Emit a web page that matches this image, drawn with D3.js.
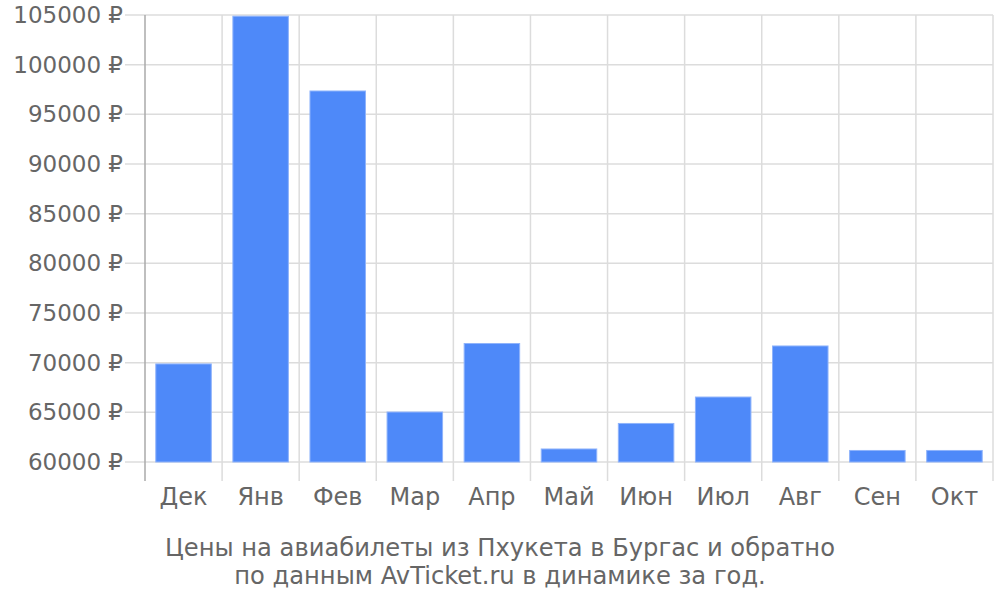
<!DOCTYPE html>
<html><head><meta charset="utf-8">
<script src="https://cdn.jsdelivr.net/npm/d3@7"></script>
<style>body{margin:0;background:#fff}svg{display:block}</style>
</head><body>
<svg id="c" width="1000" height="600"></svg>
<script>
const categories = ["Дек","Янв","Фев","Мар","Апр","Май","Июн","Июл","Авг","Сен","Окт"];
const prices = [69870, 104880, 97350, 65030, 71930, 61310, 63880, 66540, 71680, 61160, 61160];
const yTicks = [60000,65000,70000,75000,80000,85000,90000,95000,100000,105000];
const titleLines = ["Цены на авиабилеты из Пхукета в Бургас и обратно","по данным AvTicket.ru в динамике за год."];

(function () {
const svg = d3.select("#c");
const font = "'DejaVu Sans', sans-serif";
const pLeft = 145, pRight = 993, pTop = 15, base = 462, axisBottom = 481;
const x = d3.scaleBand().domain(categories).range([pLeft, pRight]).paddingInner(0.28).paddingOuter(0.14);
const xb = d3.scaleBand().domain(categories).range([pLeft, pRight]);
const y = d3.scaleLinear().domain([60000, 105000]).range([base, pTop]);

// horizontal grid
svg.append("g").selectAll("line").data(yTicks).join("line")
  .attr("x1", 125).attr("x2", pRight).attr("y1", d => y(d)).attr("y2", d => y(d))
  .attr("stroke", "#dcdcdc").attr("stroke-width", 1.5);
// vertical grid
const vx = categories.map(c => xb(c)).concat([pRight]);
svg.append("g").selectAll("line").data(vx.slice(1)).join("line")
  .attr("x1", d => d).attr("x2", d => d).attr("y1", pTop).attr("y2", axisBottom)
  .attr("stroke", "#dcdcdc").attr("stroke-width", 1.5);
// y axis line
svg.append("line").attr("x1", pLeft).attr("x2", pLeft).attr("y1", pTop).attr("y2", axisBottom)
  .attr("stroke", "#aaaaaa").attr("stroke-width", 1.5);

// bars
svg.append("g").selectAll("rect").data(prices).join("rect")
  .attr("x", (d, i) => x(categories[i]))
  .attr("width", x.bandwidth())
  .attr("y", d => y(d))
  .attr("height", d => base - y(d))
  .attr("fill", "#4e89f9").attr("stroke", "#8fb3fb").attr("stroke-width", 1);

// y tick labels
svg.append("g").selectAll("text").data(yTicks).join("text")
  .attr("x", 123).attr("y", d => y(d)).attr("dy", "0.35em")
  .attr("text-anchor", "end").attr("fill", "#666").attr("font-family", font).attr("font-size", 23)
  .text(d => d + " ₽");

// x labels
svg.append("g").selectAll("text").data(categories).join("text")
  .attr("x", d => xb(d) + xb.bandwidth() / 2).attr("y", 497).attr("dy", "0.35em")
  .attr("text-anchor", "middle").attr("fill", "#666").attr("font-family", font).attr("font-size", 24)
  .text(d => d);

// title
svg.append("g").selectAll("text").data(titleLines).join("text")
  .attr("x", 500).attr("y", (d, i) => 548 + i * 28).attr("dy", "0.35em")
  .attr("text-anchor", "middle").attr("fill", "#666").attr("font-family", font).attr("font-size", 24.2)
  .text(d => d);
})();
</script>
</body></html>
